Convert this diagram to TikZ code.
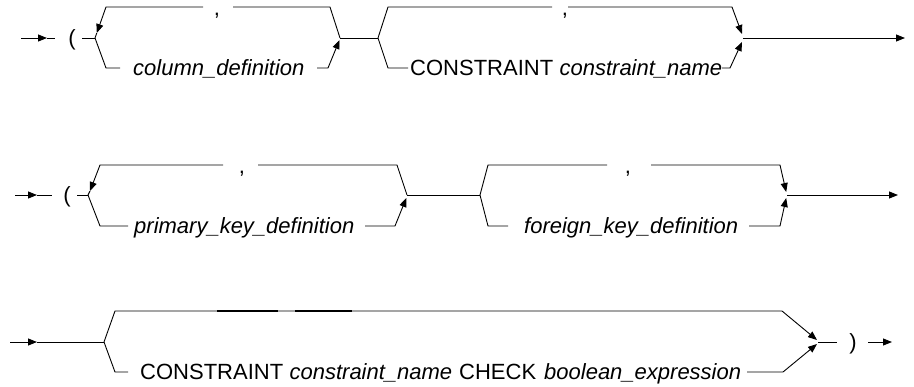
\documentclass[tikz,border=0pt]{standalone}
\usepackage{fontspec}
\setmainfont{Liberation Sans}
\usetikzlibrary{arrows.meta}
\tikzset{
  kw/.style={font=\fontsize{22}{26}\selectfont, inner sep=0pt, anchor=base west},
  it/.style={font=\itshape\fontsize{22}{26}\selectfont, inner sep=0pt, anchor=base west},
  sym/.style={font=\fontsize{22}{26}\selectfont, inner sep=0pt, anchor=base},
  ln/.style={line width=0.9pt, line join=miter},
  arr/.style={ln, -{Triangle[length=9pt,width=7pt]}},
  thick seg/.style={line width=1.1pt},
}
\begin{document}
\begin{tikzpicture}[x=1pt,y=-1pt]
\useasboundingbox (0,0) rectangle (914,386);

% ---------------- Row 1 ----------------
\coordinate (s1) at (21,38);
\coordinate (s1t) at (47,38);
\coordinate (s1e) at (55,38);
\node[sym] (p1) at (72,45) {(};
\coordinate (p1r) at (82,38);
\coordinate (j1) at (95,38);
\coordinate (j1r) at (340,38);
\coordinate (j2) at (378,38);
\coordinate (j2r) at (743,38);
\coordinate (e1) at (905,38);

\draw[arr] (s1) -- (s1t);
\draw[ln] (s1t) -- (s1e);
\draw[ln] (p1r) -- (j1);

% loop 1 (repeat with comma)
\node[sym] (c1) at (217,15) {,};
\node[it] (coldef) at (133,75) {column\_definition};
\draw[ln] (j1r) -- (330,7) -- (233,7);
\draw[arr] (203,7) -- (106,7) -- (96.8,33);
\draw[ln] (96.8,33) -- (j1);
\draw[ln] (j1) -- (106,68) -- (120,68);
\draw[arr] (317,68) -- (328,68) -- (339.5,40);
\draw[ln] (j1r) -- (j2);

% loop 2
\node[sym] (c2) at (565,15) {,};
\node[kw] (con1) at (410,75) {CONSTRAINT};
\node[it, anchor=base west] (cn1) at ([xshift=6pt]con1.base east) {constraint\_name};
\draw[ln] (j2) -- (388,7) -- (552,7);
\draw[arr] (568,7) -- (732,7) -- (742,34);
\draw[ln] (j2) -- (388,68) -- (408,68);
\draw[arr] (722,68) -- (730,68) -- (742,42);
\draw[arr] (j2r) -- (e1);

% ---------------- Row 2 ----------------
\coordinate (s2) at (15,195);
\coordinate (s2t) at (37,195);
\coordinate (s2e) at (52,195);
\node[sym] (p2) at (67,202) {(};
\coordinate (p2r) at (77,195);
\coordinate (j3) at (88,195);
\coordinate (j3r) at (407,195);
\coordinate (j4) at (480,195);
\coordinate (j4r) at (787,195);
\coordinate (e2) at (898,195);

\draw[arr] (s2) -- (s2t);
\draw[ln] (s2t) -- (s2e);
\draw[ln] (p2r) -- (j3);

% loop 3
\node[sym] (c3) at (242,173) {,};
\node[it] (pkd) at (134,233) {primary\_key\_definition};
\draw[ln] (j3r) -- (397,165) -- (258,165);
\draw[arr] (223,165) -- (100,165) -- (90,191);
\draw[ln] (90,191) -- (j3);
\draw[ln] (j3) -- (100,226) -- (128,226);
\draw[arr] (365,226) -- (395,226) -- (406.3,198);
\draw[ln] (j3r) -- (j4);

% loop 4
\node[sym] (c4) at (628,173) {,};
\node[it] (fkd) at (524,233) {foreign\_key\_definition};
\draw[ln] (j4) -- (488,165) -- (607,165);
\draw[arr] (651,165) -- (780,165) -- (786.2,192);
\draw[ln] (j4) -- (488,226) -- (508,226);
\draw[arr] (749,226) -- (780,226) -- (786.2,198);
\draw[arr] (j4r) -- (e2);

% ---------------- Row 3 ----------------
\coordinate (s3) at (10,342);
\coordinate (s3t) at (37,342);
\coordinate (j5) at (104,342);
\coordinate (j5r) at (818,342);
\coordinate (j5e) at (837,342);
\node[sym] (p3) at (853,349) {)};
\coordinate (p3r) at (868,342);
\coordinate (e3) at (892,342);

\draw[arr] (s3) -- (s3t);
\draw[ln] (s3t) -- (j5);

\node[kw] (con2) at (140,379) {CONSTRAINT};
\node[it, anchor=base west] (cn2) at ([xshift=6pt]con2.base east) {constraint\_name};
\node[kw] (chk) at (459,379) {CHECK};
\node[it] (bex) at (544,379) {boolean\_expression};

\draw[arr] (j5) -- (115,311) -- (782,311) -- (817,340);
\draw[thick seg] (217,311) -- (278,311);
\draw[thick seg] (295,311) -- (352,311);
\draw[ln] (j5) -- (115,372) -- (128,372);
\draw[arr] (747,372) -- (783,372) -- (817,344);
\draw[ln] (j5r) -- (j5e);
\draw[arr] (p3r) -- (e3);
\end{tikzpicture}
\end{document}
